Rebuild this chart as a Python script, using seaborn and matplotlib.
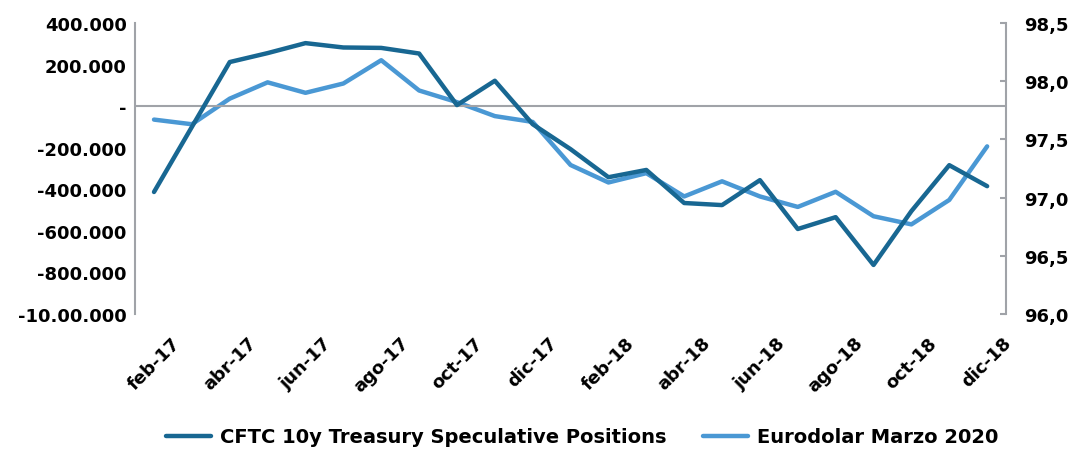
import numpy as np
import pandas as pd
import seaborn as sns
import matplotlib.pyplot as plt
from matplotlib.ticker import FixedLocator

months = ["feb-17", "mar-17", "abr-17", "may-17", "jun-17", "jul-17", "ago-17",
          "sep-17", "oct-17", "nov-17", "dic-17", "ene-18", "feb-18", "mar-18",
          "abr-18", "may-18", "jun-18", "jul-18", "ago-18", "sep-18", "oct-18",
          "nov-18", "dic-18"]
cftc = [-413000, -100000, 212000, 255000, 303000, 282000, 280000, 253000, 5000,
        122000, -87000, -207000, -342000, -307000, -466000, -476000, -356000,
        -591000, -534000, -764000, -505000, -284000, -385000]
eurodolar = [97.67, 97.63, 97.85, 97.99, 97.90, 97.98, 98.18, 97.92, 97.82,
             97.70, 97.65, 97.28, 97.13, 97.21, 97.01, 97.14, 97.01, 96.92,
             97.05, 96.84, 96.77, 96.98, 97.44]
left_ticks = [400000, 200000, 0, -200000, -400000, -600000, -800000, -1000000]
left_labels = ["400.000", "200.000", "-", "-200.000", "-400.000", "-600.000",
               "-800.000", "-10.00.000"]
right_ticks = [96.0, 96.5, 97.0, 97.5, 98.0, 98.5]
right_labels = ["96,0", "96,5", "97,0", "97,5", "98,0", "98,5"]

dark = "#186792"
light = "#4A98D4"
grey = "#A0A3A8"

sns.set_style("white")
plt.rcParams["font.family"] = ["DejaVu Sans"]
plt.rcParams["font.weight"] = "bold"
plt.rcParams["text.color"] = "black"
plt.rcParams["xtick.color"] = "black"
plt.rcParams["ytick.color"] = "black"

df = pd.DataFrame({"mes": months, "cftc": cftc, "euro": eurodolar})
df["i"] = np.arange(len(df))

fig = plt.figure(figsize=(10.72, 4.52), dpi=100)
ax = fig.add_axes([0.126, 0.303, 0.8125, 0.644])
ax2 = ax.twinx()

sns.lineplot(data=df, x="i", y="cftc", ax=ax, color=dark, lw=3.2,
             label="CFTC 10y Treasury Speculative Positions", legend=False)
sns.lineplot(data=df, x="i", y="euro", ax=ax2, color=light, lw=3.2,
             label="Eurodolar Marzo 2020", legend=False)
ax.set_zorder(ax2.get_zorder() + 1)
ax.patch.set_visible(False)

ax.axhline(0, color=grey, lw=1.5, zorder=0)

ax.set_xlim(-0.5, len(months) - 0.5)
ax.set_ylim(-1000000, 400000)
ax2.set_ylim(96.0, 98.5)

ax.yaxis.set_major_locator(FixedLocator(left_ticks))
ax.set_yticklabels(left_labels, fontsize=13, fontweight="bold")
ax2.yaxis.set_major_locator(FixedLocator(right_ticks))
ax2.set_yticklabels(right_labels, fontsize=13, fontweight="bold")

xt = list(range(0, len(months), 2))
ax.set_xticks(xt)
ax.set_xticklabels([months[k] for k in xt], rotation=45, ha="center",
                   fontsize=13, fontweight="bold")
ax.set_xlabel("")
ax.set_ylabel("")
ax2.set_ylabel("")

for a in (ax, ax2):
    for s in ("top", "bottom", "left", "right"):
        a.spines[s].set_visible(False)
ax.spines["left"].set_visible(True)
ax.spines["left"].set_color(grey)
ax.spines["left"].set_linewidth(1.5)
ax2.spines["right"].set_visible(True)
ax2.spines["right"].set_color(grey)
ax2.spines["right"].set_linewidth(1.5)

ax.tick_params(axis="y", length=0, pad=6)
ax.tick_params(axis="x", length=0, pad=14)
ax2.tick_params(axis="y", direction="in", length=4, color=grey, width=1.5, pad=13)

h1, l1 = ax.get_legend_handles_labels()
h2, l2 = ax2.get_legend_handles_labels()
fig.legend(h1 + h2, l1 + l2, loc="center", bbox_to_anchor=(0.543, 0.031),
           ncol=2, frameon=False, handlelength=2.3, handletextpad=0.45,
           columnspacing=1.9, prop={"size": 14, "weight": "bold"})

fig.savefig("out.png", dpi=100)
